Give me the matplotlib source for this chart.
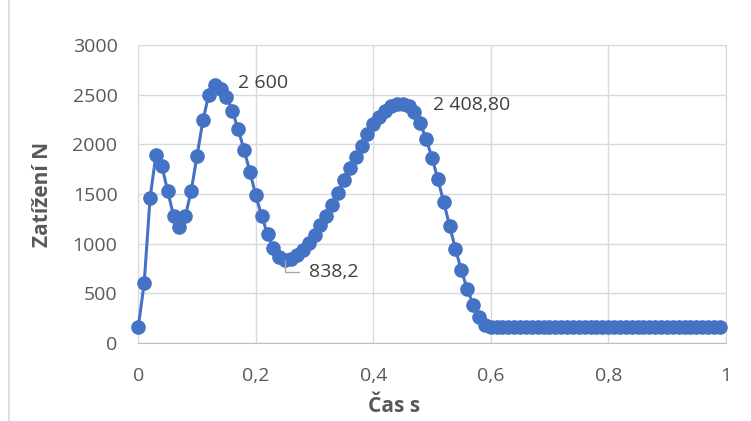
import numpy as np
import matplotlib
matplotlib.use("Agg")
import matplotlib.pyplot as plt
from matplotlib.lines import Line2D
from matplotlib.ticker import FuncFormatter

# data (sampling step 0.01 s)
time_s = np.round(np.arange(0, 1.0, 0.01), 2)
load_n = [
    165, 600, 1460, 1890, 1785, 1530, 1280, 1170, 1275, 1530,
    1885, 2240, 2500, 2600, 2560, 2480, 2340, 2150, 1945, 1725,
    1485, 1280, 1095, 955, 870, 838.2, 850, 885, 935, 1005,
    1090, 1185, 1275, 1390, 1510, 1640, 1760, 1870, 1985, 2100,
    2205, 2280, 2340, 2385, 2403, 2408.8, 2390, 2330, 2215, 2055,
    1865, 1650, 1415, 1180, 945, 730, 545, 385, 265, 185,
    165, 165, 165, 165, 165, 165, 165, 165, 165, 165,
    165, 165, 165, 165, 165, 165, 165, 165, 165, 165,
    165, 165, 165, 165, 165, 165, 165, 165, 165, 165,
    165, 165, 165, 165, 165, 165, 165, 165, 165, 165,
]
labels = ["2 600", "838,2", "2 408,80"]
label_idx = [13, 25, 45]

blue = "#4472C4"
grid_c = "#D9D9D9"
txt_c = "#595959"

plt.rcParams['font.family'] = ['Open Sans', 'DejaVu Sans']

fig = plt.figure(figsize=(7.51, 4.21), dpi=100)
ax = fig.add_axes([138.3/751, 1-343/421, (725.7-138.3)/751, (343-45)/421])

ax.plot(time_s, load_n, color=blue, lw=2.2, marker='o', ms=9.5,
        markerfacecolor=blue, markeredgecolor=blue, zorder=3, clip_on=False)

ax.set_xlim(0, 1)
ax.set_ylim(0, 3000)
ax.set_xticks([0, 0.2, 0.4, 0.6, 0.8, 1])
ax.set_yticks(range(0, 3001, 500))
ax.xaxis.set_major_formatter(FuncFormatter(lambda v, p: ('%g' % v).replace('.', ',')))
ax.grid(True, color=grid_c, lw=1)
ax.set_axisbelow(True)
for s in ax.spines.values():
    s.set_color(grid_c)
ax.spines['bottom'].set_color('#BFBFBF')
ax.tick_params(length=0, labelsize=14, labelcolor=txt_c)
ax.tick_params(axis='y', pad=15)
ax.tick_params(axis='x', pad=17)

ax.set_ylabel("Zatížení N", fontsize=15, fontweight='bold', color=txt_c)
ax.yaxis.set_label_coords(-0.145, 0.5)
ax.set_xlabel("Čas s", fontsize=15, fontweight='bold', color=txt_c)
ax.xaxis.set_label_coords(0.435, -0.178)

offsets = [(17, 1), (17, -9), (22, -1)]
for lab, i, off in zip(labels, label_idx, offsets):
    if lab == "838,2":
        ax.annotate(lab, (time_s[i], load_n[i]), xytext=off, textcoords='offset points',
                    ha='left', va='center', fontsize=14, color='#404040',
                    arrowprops=dict(arrowstyle='-', color='#A6A6A6', lw=1,
                                    shrinkA=5, shrinkB=0, relpos=(0, 0.5),
                                    connectionstyle='angle,angleA=0,angleB=90,rad=0'))
    else:
        ax.annotate(lab, (time_s[i], load_n[i]), xytext=off, textcoords='offset points',
                    ha='left', va='center', fontsize=14, color='#404040')

fig.add_artist(Line2D([8.5/751, 8.5/751], [0, 1], color=grid_c, lw=1.2))

fig.savefig("out.png", dpi=100)
